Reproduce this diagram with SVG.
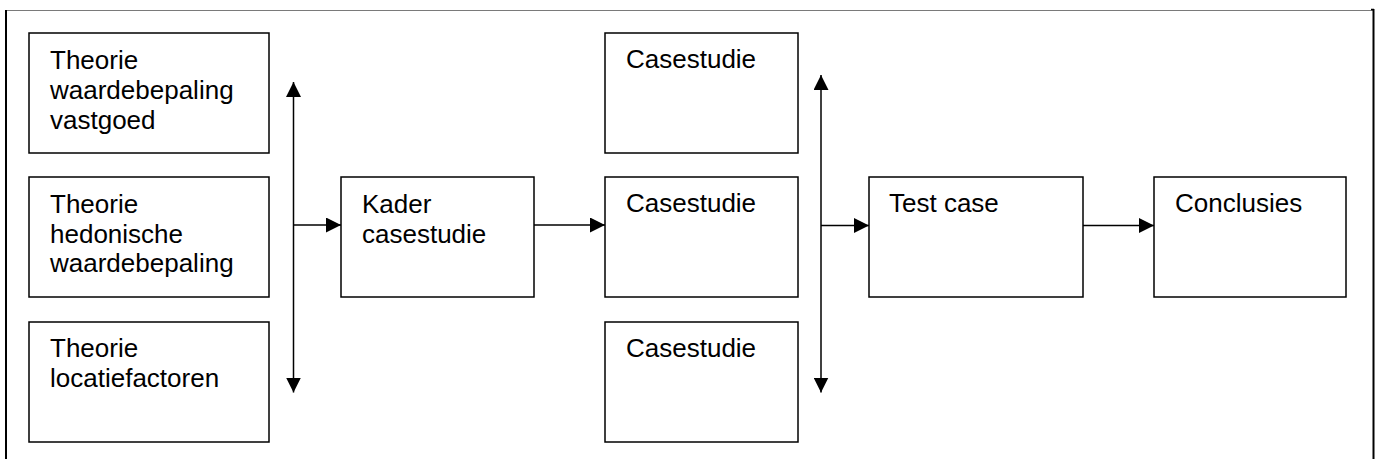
<svg xmlns="http://www.w3.org/2000/svg" width="1377" height="459" viewBox="0 0 1377 459">
  <style>
    .box { fill: #ffffff; stroke: #000000; stroke-width: 1.5; }
    .lbl { font-family: "Liberation Sans", Arial, sans-serif; font-size: 26px; fill: #000000; }
    .wire { fill: none; stroke: #000000; stroke-width: 1.5; }
  </style>
  <defs>
    <marker id="head" viewBox="0 0 15 15" refX="15" refY="7.5" markerWidth="15" markerHeight="15" markerUnits="userSpaceOnUse" orient="auto-start-reverse">
      <path d="M0,0 L15,7.5 L0,15 Z" fill="#000000"/>
    </marker>
  </defs>
  <rect width="1377" height="459" fill="#ffffff"/>

  <!-- page frame -->
  <g id="frame">
    <line x1="6" y1="10.5" x2="1373" y2="10.5" stroke="#7a7a7a" stroke-width="1"/>
    <line x1="6" y1="10" x2="6" y2="459" stroke="#000000" stroke-width="2"/>
    <line x1="1373.5" y1="9" x2="1373.5" y2="459" stroke="#000000" stroke-width="2"/>
    <line x1="1371" y1="9.5" x2="1374" y2="9.5" stroke="#000000" stroke-width="1.5"/>
  </g>

  <!-- connectors -->
  <g id="connectors">
    <line class="wire" x1="293.5" y1="392.5" x2="293.5" y2="82" marker-start="url(#head)" marker-end="url(#head)"/>
    <line class="wire" x1="293.5" y1="225" x2="341" y2="225" marker-end="url(#head)"/>
    <line class="wire" x1="534" y1="225" x2="605" y2="225" marker-end="url(#head)"/>
    <line class="wire" x1="821" y1="392.5" x2="821" y2="75" marker-start="url(#head)" marker-end="url(#head)"/>
    <line class="wire" x1="821" y1="225.5" x2="869" y2="225.5" marker-end="url(#head)"/>
    <line class="wire" x1="1083" y1="225.5" x2="1154" y2="225.5" marker-end="url(#head)"/>
  </g>

  <g id="theorie-vastgoed">
    <rect class="box" x="29" y="33" width="240" height="120"/>
    <text class="lbl" x="50" y="69">Theorie</text>
    <text class="lbl" x="50" y="99">waardebepaling</text>
    <text class="lbl" x="50" y="129">vastgoed</text>
  </g>

  <g id="theorie-hedonisch">
    <rect class="box" x="29" y="177" width="240" height="120"/>
    <text class="lbl" x="50" y="213">Theorie</text>
    <text class="lbl" x="50" y="243">hedonische</text>
    <text class="lbl" x="50" y="272">waardebepaling</text>
  </g>

  <g id="theorie-locatie">
    <rect class="box" x="29" y="322" width="240" height="120"/>
    <text class="lbl" x="50" y="357">Theorie</text>
    <text class="lbl" x="50" y="387">locatiefactoren</text>
  </g>

  <g id="kader-casestudie">
    <rect class="box" x="341" y="177" width="193" height="120"/>
    <text class="lbl" x="362" y="213">Kader</text>
    <text class="lbl" x="362" y="243">casestudie</text>
  </g>

  <g id="casestudie-1">
    <rect class="box" x="605" y="33" width="193" height="120"/>
    <text class="lbl" x="626" y="68">Casestudie</text>
  </g>

  <g id="casestudie-2">
    <rect class="box" x="605" y="177" width="193" height="120"/>
    <text class="lbl" x="626" y="212">Casestudie</text>
  </g>

  <g id="casestudie-3">
    <rect class="box" x="605" y="322" width="193" height="120"/>
    <text class="lbl" x="626" y="357">Casestudie</text>
  </g>

  <g id="test-case">
    <rect class="box" x="869" y="177" width="214" height="120"/>
    <text class="lbl" x="889" y="212">Test case</text>
  </g>

  <g id="conclusies">
    <rect class="box" x="1154" y="177" width="192" height="120"/>
    <text class="lbl" x="1175" y="212">Conclusies</text>
  </g>
</svg>
